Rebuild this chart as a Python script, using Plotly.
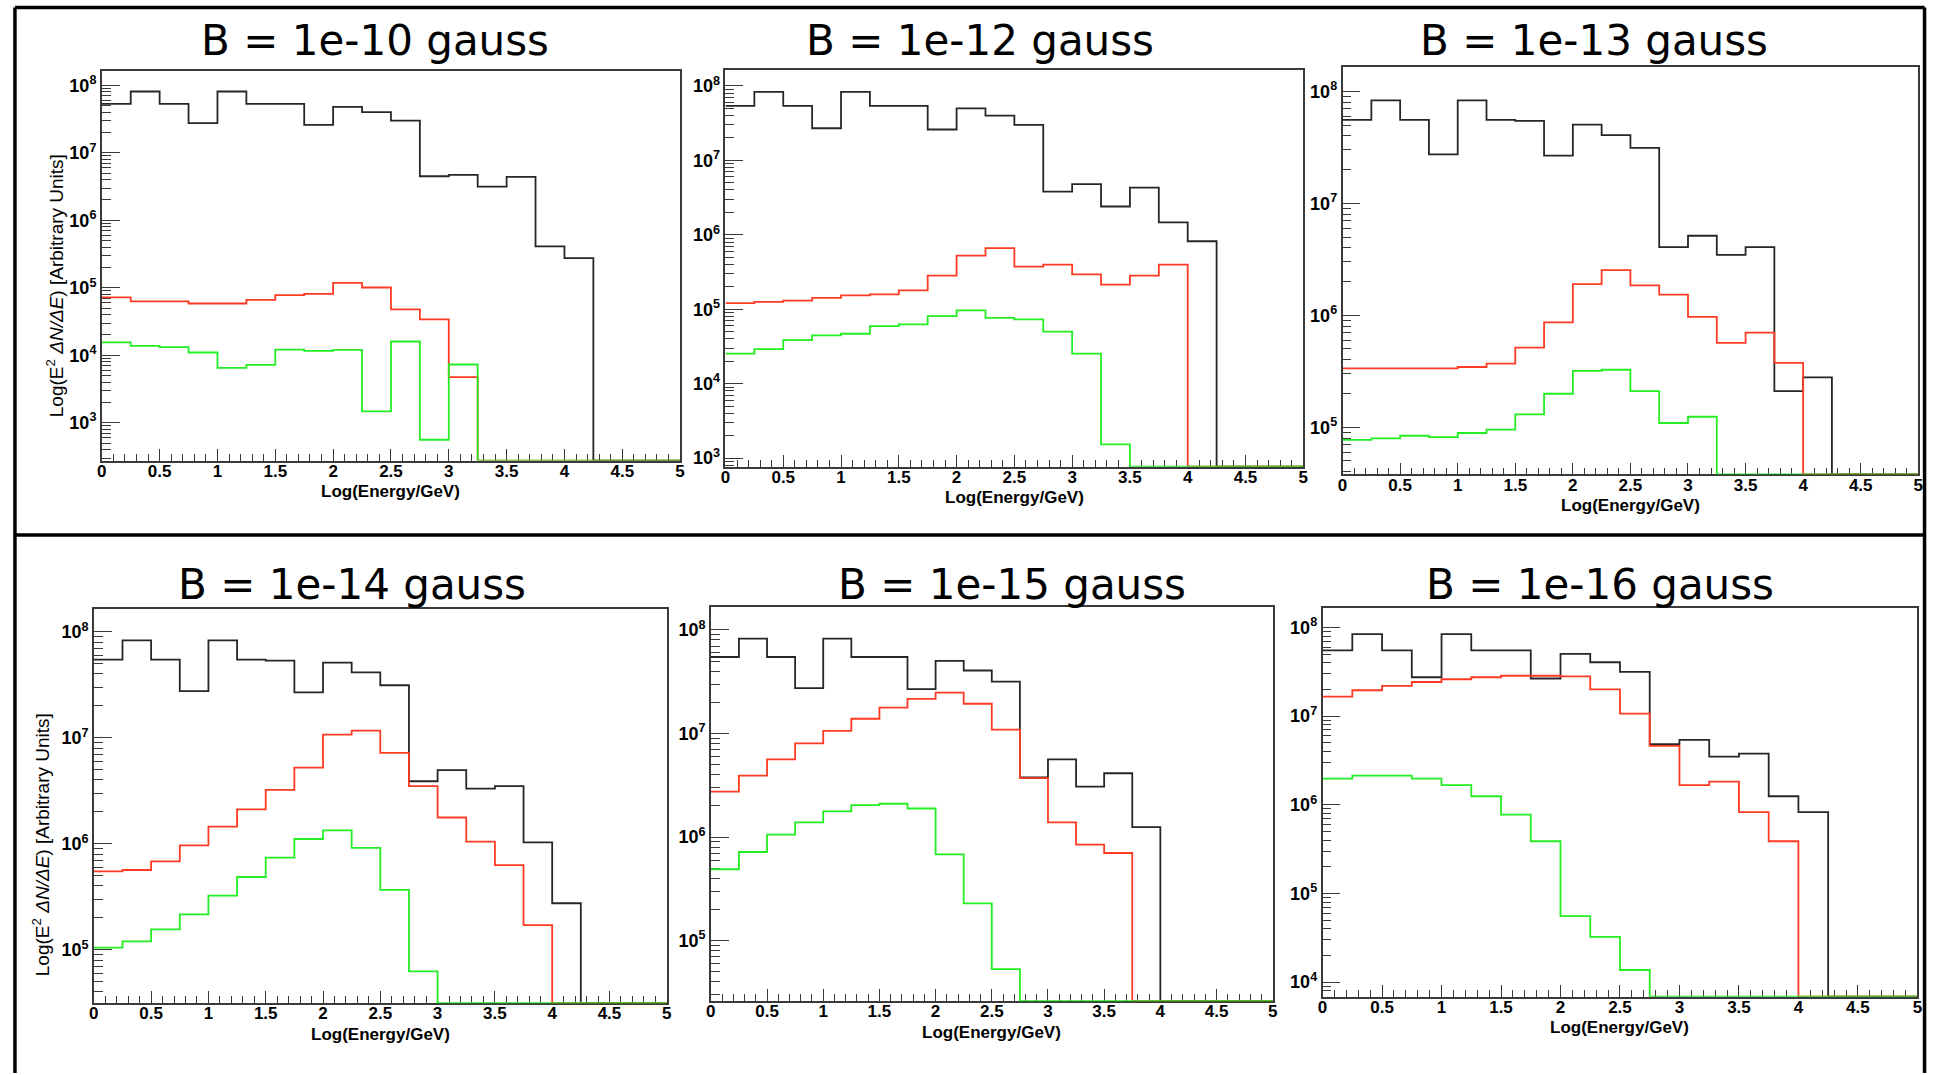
import plotly.graph_objects as go

W, H = 1939, 1075

# ---------------- data ----------------
bin_edges = [0.0, 0.25, 0.5, 0.75, 1.0, 1.25, 1.5, 1.75, 2.0, 2.25, 2.5,
             2.75, 3.0, 3.25, 3.5, 3.75, 4.0, 4.25, 4.5, 4.75, 5.0]

panel_titles = ["B = 1e-10 gauss", "B = 1e-12 gauss", "B = 1e-13 gauss",
                "B = 1e-14 gauss", "B = 1e-15 gauss", "B = 1e-16 gauss"]

x_title = "Log(Energy/GeV)"
y_title = "Log(E<sup>2</sup> <i>ΔN/ΔE</i>) [Arbitrary Units]"

x_tick_vals = [0, 0.5, 1, 1.5, 2, 2.5, 3, 3.5, 4, 4.5, 5]

# B = 1e-10 gauss
black_b10 = [5.3e7, 8.1e7, 5.3e7, 2.75e7, 8.1e7, 5.3e7, 5.3e7, 2.6e7, 4.8e7, 4.0e7,
             3.0e7, 4.5e6, 4.7e6, 3.15e6, 4.4e6, 4.1e5, 2.75e5, 0, 0, 0]
red_b10 = [7.2e4, 6.3e4, 6.3e4, 5.85e4, 5.85e4, 6.6e4, 7.8e4, 8.1e4, 1.18e5, 1.01e5,
           4.8e4, 3.4e4, 4.75e3, 0, 0, 0, 0, 0, 0, 0]
green_b10 = [1.55e4, 1.38e4, 1.32e4, 1.1e4, 6.5e3, 7.2e3, 1.21e4, 1.16e4, 1.2e4, 1.47e3,
             1.6e4, 5.6e2, 7.3e3, 0, 0, 0, 0, 0, 0, 0]

# B = 1e-12 gauss
black_b12 = [5.4e7, 8.3e7, 5.4e7, 2.7e7, 8.3e7, 5.4e7, 5.4e7, 2.6e7, 5.0e7, 4.0e7,
             3.0e7, 3.8e6, 4.8e6, 2.4e6, 4.3e6, 1.47e6, 8.2e5, 0, 0, 0]
red_b12 = [1.21e5, 1.26e5, 1.31e5, 1.42e5, 1.54e5, 1.59e5, 1.79e5, 2.83e5, 5.24e5, 6.62e5,
           3.73e5, 3.98e5, 2.95e5, 2.14e5, 2.83e5, 3.98e5, 0, 0, 0, 0]
green_b12 = [2.54e4, 2.91e4, 3.84e4, 4.45e4, 4.69e4, 5.93e4, 6.25e4, 8.07e4, 9.66e4, 7.66e4,
             7.33e4, 5.0e4, 2.54e4, 1.53e3, 0, 0, 0, 0, 0, 0]

# B = 1e-13 gauss
black_b13 = [5.56e7, 8.32e7, 5.56e7, 2.74e7, 8.32e7, 5.56e7, 5.45e7, 2.67e7, 5.04e7, 4.07e7,
             3.13e7, 4.06e6, 5.13e6, 3.46e6, 4.06e6, 2.1e5, 2.79e5, 0, 0, 0]
red_b13 = [3.35e5, 3.35e5, 3.35e5, 3.35e5, 3.45e5, 3.7e5, 5.13e5, 8.65e5, 1.9e6, 2.53e6,
           1.85e6, 1.53e6, 9.68e5, 5.66e5, 7.0e5, 3.75e5, 0, 0, 0, 0]
green_b13 = [7.71e4, 7.93e4, 8.39e4, 8.15e4, 8.87e4, 9.53e4, 1.3e5, 1.99e5, 3.19e5, 3.26e5,
             2.1e5, 1.09e5, 1.24e5, 0, 0, 0, 0, 0, 0, 0]

# B = 1e-14 gauss
black_b14 = [5.47e7, 8.28e7, 5.47e7, 2.76e7, 8.28e7, 5.47e7, 5.35e7, 2.68e7, 5.12e7, 4.14e7,
             3.13e7, 3.89e6, 4.95e6, 3.32e6, 3.5e6, 1.03e6, 2.75e5, 0, 0, 0]
red_b14 = [5.5e5, 5.66e5, 6.82e5, 9.66e5, 1.45e6, 2.11e6, 3.22e6, 5.22e6, 1.07e7, 1.17e7,
           7.21e6, 3.5e6, 1.77e6, 1.05e6, 6.28e5, 1.71e5, 0, 0, 0, 0]
green_b14 = [1.05e5, 1.2e5, 1.56e5, 2.16e5, 3.24e5, 4.86e5, 7.41e5, 1.11e6, 1.34e6, 9.16e5,
             3.68e5, 6.27e4, 0, 0, 0, 0, 0, 0, 0, 0]

# B = 1e-15 gauss
black_b15 = [5.48e7, 8.24e7, 5.48e7, 2.74e7, 8.24e7, 5.48e7, 5.48e7, 2.68e7, 5.04e7, 4.06e7,
             3.17e7, 3.78e6, 5.64e6, 3.07e6, 4.14e6, 1.25e6, 0, 0, 0, 0]
red_b15 = [2.75e6, 3.93e6, 5.64e6, 8.04e6, 1.06e7, 1.39e7, 1.78e7, 2.16e7, 2.48e7, 1.94e7,
           1.09e7, 3.72e6, 1.39e6, 8.47e5, 7.03e5, 0, 0, 0, 0, 0]
green_b15 = [4.9e5, 7.19e5, 1.06e6, 1.39e6, 1.77e6, 2.04e6, 2.1e6, 1.89e6, 6.82e5, 2.29e5,
             5.32e4, 0, 0, 0, 0, 0, 0, 0, 0, 0]

# B = 1e-16 gauss
black_b16 = [5.52e7, 8.43e7, 5.52e7, 2.75e7, 8.43e7, 5.52e7, 5.52e7, 2.66e7, 5.05e7, 4.06e7,
             3.16e7, 4.84e6, 5.4e6, 3.5e6, 3.79e6, 1.25e6, 8.28e5, 0, 0, 0]
red_b16 = [1.66e7, 1.96e7, 2.2e7, 2.43e7, 2.61e7, 2.75e7, 2.86e7, 2.86e7, 2.81e7, 2.01e7,
           1.07e7, 4.62e6, 1.67e6, 1.83e6, 8.28e5, 3.88e5, 0, 0, 0, 0]
green_b16 = [1.97e6, 2.13e6, 2.13e6, 1.97e6, 1.67e6, 1.25e6, 7.76e5, 3.88e5, 5.55e4, 3.23e4,
             1.37e4, 0, 0, 0, 0, 0, 0, 0, 0, 0]

series = [
    (black_b10, red_b10, green_b10),
    (black_b12, red_b12, green_b12),
    (black_b13, red_b13, green_b13),
    (black_b14, red_b14, green_b14),
    (black_b15, red_b15, green_b15),
    (black_b16, red_b16, green_b16),
]

# y-axis log ranges (log10 units) and decade ticks per panel
y_ranges = [(2.44, 8.21), (2.885, 8.217), (4.579, 8.218),
            (4.496, 8.216), (4.417, 8.221), (3.836, 8.223)]
y_decades = [[3, 4, 5, 6, 7, 8], [3, 4, 5, 6, 7, 8], [5, 6, 7, 8],
             [5, 6, 7, 8], [5, 6, 7, 8], [4, 5, 6, 7, 8]]

# ---------------- layout (pixel frames) ----------------
frames = [  # x0, y0(top), x1, y1(bottom) in pixels
    (97.3, 71.3, 678.6, 461.4),
    (724.2, 69.9, 1305.0, 467.6),
    (1344.5, 67.1, 1923.2, 475.2),
    (89.3, 610.0, 665.2, 1005.1),
    (709.5, 608.2, 1274.3, 1003.0),
    (1324.4, 608.9, 1922.3, 998.5),
]
title_pos = [(372, 41), (980, 41), (1597, 41), (349, 586), (1012, 586), (1603, 586)]
ytitle_pos = {0: (51, 286), 3: (37, 846)}

COL_BLACK = "#262626"
COL_RED = "#ff3a22"
COL_GREEN = "#22ee22"
AXIS_COL = "#3a3a3a"

fig = go.Figure()
layout = dict(
    width=W, height=H, autosize=False,
    margin=dict(l=0, r=0, t=0, b=0),
    paper_bgcolor="white", plot_bgcolor="white",
    showlegend=False,
)

def px(x):
    return x / W

def py(y):
    return 1 - y / H

annotations = []
for k, (fr, (lo, hi), decs, data) in enumerate(zip(frames, y_ranges, y_decades, series)):
    x0, y0, x1, y1 = fr
    xn = "xaxis" if k == 0 else f"xaxis{k+1}"
    yn = "yaxis" if k == 0 else f"yaxis{k+1}"
    xr = "x" if k == 0 else f"x{k+1}"
    yr = "y" if k == 0 else f"y{k+1}"
    layout[xn] = dict(
        domain=[px(x0), px(x1)], anchor=yr, range=[0, 5],
        tickmode="array", tickvals=x_tick_vals,
        ticks="inside", ticklen=12, tickwidth=1.4, tickcolor=AXIS_COL,
        ticklabelstandoff=-6,
        minor=dict(dtick=0.1, tick0=0, ticks="inside", ticklen=7, tickwidth=1.3,
                   tickcolor=AXIS_COL, showgrid=False),
        showline=True, linecolor=AXIS_COL, linewidth=1.6, mirror=True,
        showgrid=False, zeroline=False, layer="below traces",
        tickfont=dict(family="Liberation Sans", size=17, color="black", weight="bold"),
    )
    layout[yn] = dict(
        domain=[py(y1), py(y0)], anchor=xr, type="log", range=[lo, hi],
        tickmode="array", tickvals=[10 ** d for d in decs],
        ticktext=[f"10<sup>{d}</sup>" for d in decs],
        ticks="inside", ticklen=18, tickwidth=1.4, tickcolor=AXIS_COL,
        minor=dict(dtick="D1", ticks="inside", ticklen=9, tickwidth=1.3,
                   tickcolor=AXIS_COL, showgrid=False),
        showline=True, linecolor=AXIS_COL, linewidth=1.6, mirror=True,
        showgrid=False, zeroline=False, layer="below traces",
        tickfont=dict(family="Liberation Sans", size=18, color="black", weight="bold"),
    )
    floor = 10 ** lo
    for vals, col in zip(data, (COL_BLACK, COL_RED, COL_GREEN)):
        yy = [v if v > 0 else floor for v in vals]
        yy = yy + [yy[-1]]
        fig.add_trace(go.Scatter(
            x=bin_edges, y=yy, mode="lines",
            line=dict(shape="hv", color=col, width=1.8),
            xaxis=xr, yaxis=yr, hoverinfo="skip", showlegend=False,
        ))
    # panel title
    tx, ty = title_pos[k]
    annotations.append(dict(
        text=panel_titles[k], x=px(tx), y=py(ty), xref="paper", yref="paper",
        xanchor="center", yanchor="middle", showarrow=False,
        font=dict(family="DejaVu Sans", size=42, color="black"),
    ))
    # x axis title
    annotations.append(dict(
        text=x_title, x=px((x0 + x1) / 2), y=py(y1 + 31), xref="paper", yref="paper",
        xanchor="center", yanchor="middle", showarrow=False,
        font=dict(family="Liberation Sans", size=17, color="black", weight="bold"),
    ))
    if k in ytitle_pos:
        ax, ay = ytitle_pos[k]
        annotations.append(dict(
            text=y_title, x=px(ax), y=py(ay), xref="paper", yref="paper",
            xanchor="center", yanchor="middle", showarrow=False, textangle=-90,
            font=dict(family="Liberation Sans", size=19, color="black"),
        ))

layout["annotations"] = annotations

border = dict(color="black", width=3.5)
layout["shapes"] = [
    dict(type="line", xref="paper", yref="paper", x0=px(10), x1=px(1929.5), y0=py(7.5), y1=py(7.5), line=border),
    dict(type="line", xref="paper", yref="paper", x0=px(10), x1=px(10), y0=py(7.5), y1=py(1075), line=border),
    dict(type="line", xref="paper", yref="paper", x0=px(1929.5), x1=px(1929.5), y0=py(7.5), y1=py(1075), line=border),
    dict(type="line", xref="paper", yref="paper", x0=px(10), x1=px(1929.5), y0=py(536), y1=py(536), line=border),
]

fig.update_layout(**layout)
fig.write_html("out.html")
